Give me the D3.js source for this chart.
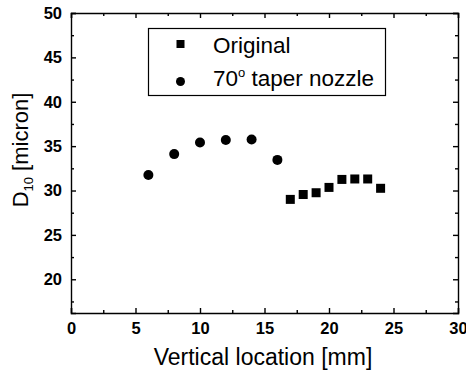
<!DOCTYPE html>
<html>
<head>
<meta charset="utf-8">
<script src="https://cdn.jsdelivr.net/npm/d3@7"></script>
<style>
  body { margin: 0; background: #fff; }
  svg text { font-family: "Liberation Sans", Arial, sans-serif; fill: #000; }
</style>
</head>
<body>
<div id="chart"></div>
<script>
const width = 466;
const height = 372;

// data
const originalX = [17, 18, 19, 20, 21, 22, 23, 24];
const originalY = [29.0, 29.55, 29.75, 30.35, 31.25, 31.3, 31.3, 30.25];
const taperX = [6, 8, 10, 12, 14, 16];
const taperY = [31.75, 34.1, 35.4, 35.7, 35.75, 33.45];
const xTicks = [0, 5, 10, 15, 20, 25, 30];
const yTicks = [20, 25, 30, 35, 40, 45, 50];
const seriesNames = ["Original", "70", " taper nozzle"];

const margin = {left: 71, right: 8, top: 13, bottom: 59};

const svg = d3.select("#chart").append("svg")
    .attr("width", width)
    .attr("height", height);

const x = d3.scaleLinear().domain([0, 30]).range([margin.left, width - margin.right]);
const y = d3.scaleLinear().domain([16.2, 50]).range([height - margin.bottom, margin.top]);

const minorX = d3.range(0, 30.01, 2.5).filter(v => v % 5 !== 0);
const minorY = d3.range(17.5, 50, 2.5).filter(v => v % 5 !== 0);

// major + minor ticks, all pointing inward
function drawAxis(axisFn, scale, major, minor, transform, labels) {
    const g = svg.append("g").attr("transform", transform);
    g.call(axisFn(scale).tickValues(major).tickSize(-5).tickPadding(labels ? 9 : 0)
        .tickFormat(labels ? d3.format("d") : ""));
    g.append("g").call(axisFn(scale).tickValues(minor).tickSize(-3).tickFormat(""))
        .select(".domain").remove();
    g.selectAll("path, line").attr("stroke", "#000").attr("stroke-width", 1.4);
    g.selectAll("text").style("font-size", "16.5px").style("font-weight", "bold")
        .attr("font-family", null);
    return g;
}

drawAxis(d3.axisBottom, x, xTicks, minorX, `translate(0,${y(16.2)})`, true);
drawAxis(d3.axisTop, x, xTicks, minorX, `translate(0,${y(50)})`, false);
drawAxis(d3.axisLeft, y, yTicks, minorY, `translate(${x(0)},0)`, true);
drawAxis(d3.axisRight, y, yTicks, minorY, `translate(${x(30)},0)`, false);

// markers
svg.append("g").selectAll("rect")
    .data(originalX.map((d, i) => [d, originalY[i]]))
    .join("rect")
    .attr("x", d => x(d[0]) - 4.5)
    .attr("y", d => y(d[1]) - 4.5)
    .attr("width", 9)
    .attr("height", 9)
    .attr("fill", "#000");

svg.append("g").selectAll("circle")
    .data(taperX.map((d, i) => [d, taperY[i]]))
    .join("circle")
    .attr("cx", d => x(d[0]))
    .attr("cy", d => y(d[1]))
    .attr("r", 5)
    .attr("fill", "#000");

// legend
const legend = svg.append("g");
legend.append("rect")
    .attr("x", 148.5).attr("y", 28.5)
    .attr("width", 237).attr("height", 67)
    .attr("fill", "#fff").attr("stroke", "#000").attr("stroke-width", 1.2);
legend.append("rect").attr("x", 176.5).attr("y", 40).attr("width", 8).attr("height", 8).attr("fill", "#000");
legend.append("circle").attr("cx", 180.5).attr("cy", 81.5).attr("r", 4.5).attr("fill", "#000");
legend.append("text").attr("x", 213).attr("y", 53)
    .style("font-size", "22.5px").text(seriesNames[0]);
const t2 = legend.append("text").attr("x", 213).attr("y", 86)
    .style("font-size", "22.5px");
t2.append("tspan").text(seriesNames[1]);
t2.append("tspan").attr("dy", -9).style("font-size", "13px").text("o");
t2.append("tspan").attr("dy", 9).text(seriesNames[2]);

// axis titles
svg.append("text")
    .attr("x", 263).attr("y", 365)
    .attr("text-anchor", "middle")
    .style("font-size", "23px")
    .text("Vertical location [mm]");

const yl = svg.append("text")
    .attr("transform", "translate(28,150) rotate(-90)")
    .attr("text-anchor", "middle")
    .style("font-size", "22px");
yl.append("tspan").text("D");
yl.append("tspan").attr("dy", 5).style("font-size", "13px").text("10");
yl.append("tspan").attr("dy", -5).text(" [micron]");
</script>
</body>
</html>
